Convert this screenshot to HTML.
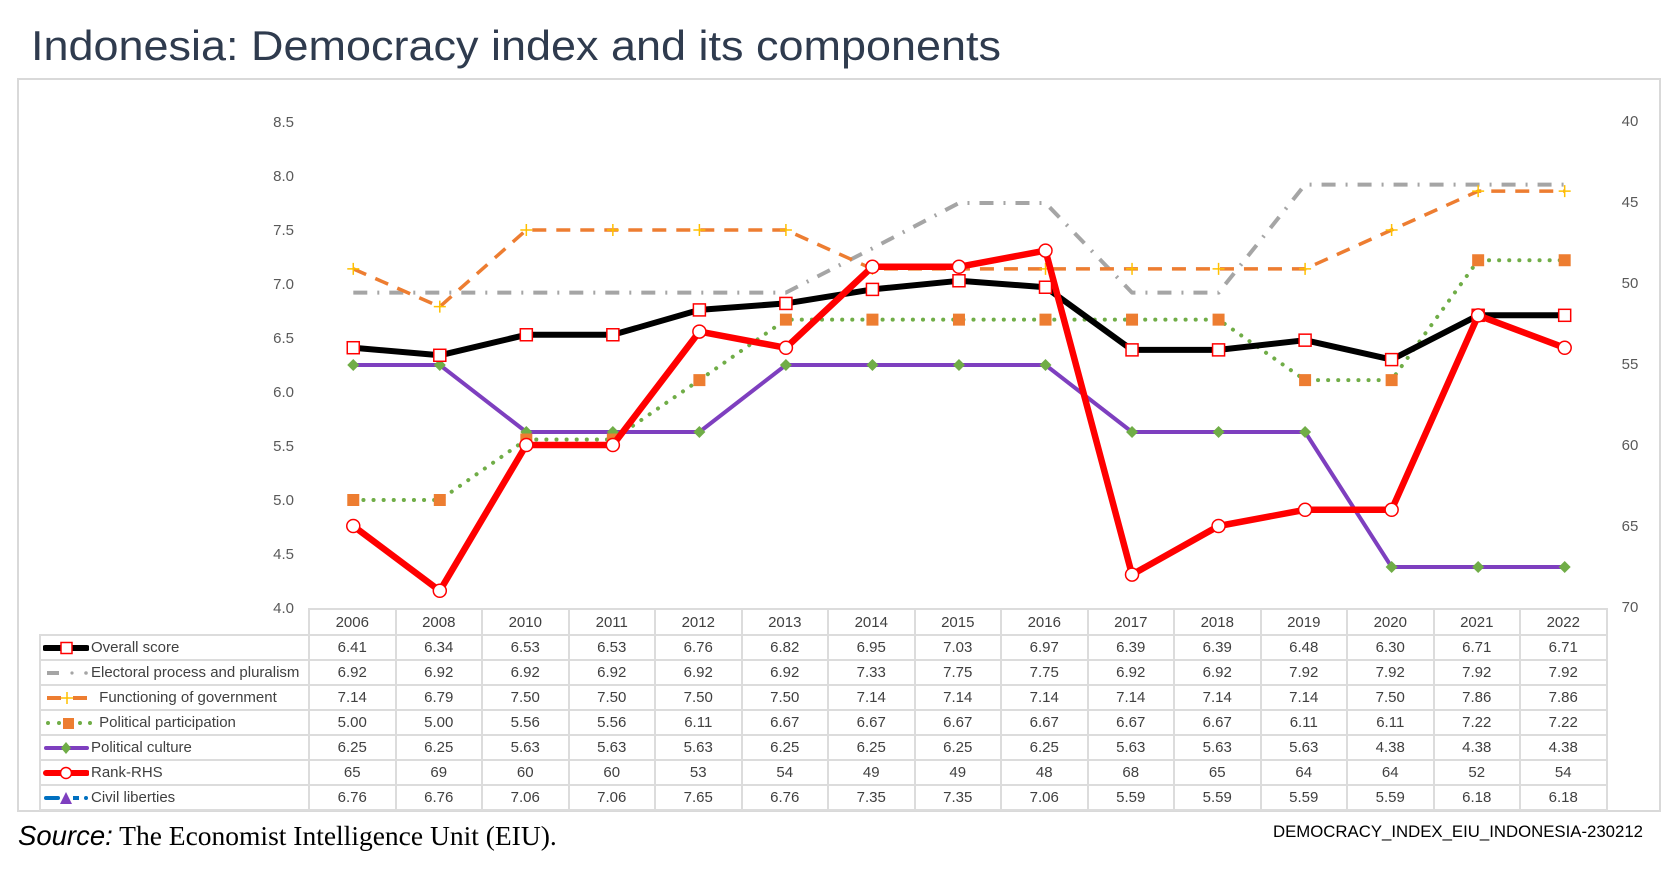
<!DOCTYPE html>
<html><head><meta charset="utf-8"><style>
body{margin:0;width:1674px;height:870px;background:#fff;position:relative;overflow:hidden;font-family:"Liberation Sans",sans-serif}
#frame{position:absolute;left:17px;top:78px;width:1640px;height:730px;border:2px solid #D9D9D9;box-sizing:content-box}
table{position:absolute;left:39px;top:608px;border-collapse:collapse;table-layout:fixed;font-size:15px;color:#404040}
td{border:2px solid #DCDCDC;height:23px;padding:0;text-align:center;white-space:nowrap;overflow:hidden;line-height:23px}
tr.h td{height:24px}
td.l{text-align:left;width:267px}
td.n{width:84.5px}
tr.h td.l{border:none;border-right:2px solid #DCDCDC}
svg.ic{vertical-align:middle;margin:0 2px 0 2px}
</style></head><body>
<svg width="1674" height="870" style="position:absolute;left:0;top:0">
<text x="31" y="60" font-family="Liberation Sans,sans-serif" font-size="42" fill="#2F3B4E" textLength="970" lengthAdjust="spacingAndGlyphs">Indonesia: Democracy index and its components</text>
<g font-size="15" fill="#595959" text-anchor="end">
<text x="294" y="127">8.5</text><text x="294" y="181">8.0</text><text x="294" y="235">7.5</text><text x="294" y="289">7.0</text><text x="294" y="343">6.5</text><text x="294" y="397">6.0</text><text x="294" y="451">5.5</text><text x="294" y="505">5.0</text><text x="294" y="559">4.5</text><text x="294" y="613">4.0</text>
</g>
<g font-size="15" fill="#595959" text-anchor="middle">
<text x="1630" y="126">40</text><text x="1630" y="207">45</text><text x="1630" y="288">50</text><text x="1630" y="369">55</text><text x="1630" y="450">60</text><text x="1630" y="531">65</text><text x="1630" y="612">70</text>
</g>
<g id="plot"></g>
<text x="18" y="845" font-size="27.5" fill="#000"><tspan font-family="Liberation Sans,sans-serif" font-style="italic">Source:</tspan><tspan font-family="Liberation Serif,serif"> The Economist Intelligence Unit (EIU).</tspan></text>
<text x="1273" y="837" font-size="17" fill="#000" textLength="370" lengthAdjust="spacingAndGlyphs">DEMOCRACY_INDEX_EIU_INDONESIA-230212</text>
</svg>
<div id="frame"></div>
<table>
<tr class="h"><td class="l"></td><td class="n">2006</td><td class="n">2008</td><td class="n">2010</td><td class="n">2011</td><td class="n">2012</td><td class="n">2013</td><td class="n">2014</td><td class="n">2015</td><td class="n">2016</td><td class="n">2017</td><td class="n">2018</td><td class="n">2019</td><td class="n">2020</td><td class="n">2021</td><td class="n">2022</td></tr>
<tr><td class="l"><svg class="ic" width="46" height="14"><line x1="2" y1="7" x2="44" y2="7" stroke="#000" stroke-width="6" stroke-linecap="round"/><rect x="18" y="1.5" width="11" height="11" fill="#fff" stroke="#f00" stroke-width="1.5"/></svg>Overall score</td><td>6.41</td><td>6.34</td><td>6.53</td><td>6.53</td><td>6.76</td><td>6.82</td><td>6.95</td><td>7.03</td><td>6.97</td><td>6.39</td><td>6.39</td><td>6.48</td><td>6.30</td><td>6.71</td><td>6.71</td></tr>
<tr><td class="l"><svg class="ic" width="46" height="14"><line x1="4" y1="7" x2="16" y2="7" stroke="#A5A5A5" stroke-width="4"/><circle cx="29" cy="7" r="1.6" fill="#A5A5A5"/><circle cx="43" cy="7" r="1.8" fill="#A5A5A5"/></svg>Electoral process and pluralism</td><td>6.92</td><td>6.92</td><td>6.92</td><td>6.92</td><td>6.92</td><td>6.92</td><td>7.33</td><td>7.75</td><td>7.75</td><td>6.92</td><td>6.92</td><td>7.92</td><td>7.92</td><td>7.92</td><td>7.92</td></tr>
<tr><td class="l"><svg class="ic" width="50" height="14"><line x1="4" y1="7" x2="18" y2="7" stroke="#ED7D31" stroke-width="4"/><line x1="30" y1="7" x2="44" y2="7" stroke="#ED7D31" stroke-width="4"/><path d="M18 7H30M24 1V13" stroke="#FFC000" stroke-width="1.5"/></svg> Functioning of government</td><td>7.14</td><td>6.79</td><td>7.50</td><td>7.50</td><td>7.50</td><td>7.50</td><td>7.14</td><td>7.14</td><td>7.14</td><td>7.14</td><td>7.14</td><td>7.14</td><td>7.50</td><td>7.86</td><td>7.86</td></tr>
<tr><td class="l"><svg class="ic" width="50" height="14"><circle cx="5" cy="7" r="2" fill="#70AD47"/><circle cx="16" cy="7" r="2" fill="#70AD47"/><circle cx="37" cy="7" r="2" fill="#70AD47"/><circle cx="47" cy="7" r="2" fill="#70AD47"/><rect x="20" y="2" width="11" height="11" fill="#ED7D31"/></svg> Political participation</td><td>5.00</td><td>5.00</td><td>5.56</td><td>5.56</td><td>6.11</td><td>6.67</td><td>6.67</td><td>6.67</td><td>6.67</td><td>6.67</td><td>6.67</td><td>6.11</td><td>6.11</td><td>7.22</td><td>7.22</td></tr>
<tr><td class="l"><svg class="ic" width="46" height="14"><line x1="3" y1="7" x2="44" y2="7" stroke="#7E3FBF" stroke-width="4" stroke-linecap="round"/><path d="M23 1L28 7L23 13L18 7Z" fill="#70AD47"/></svg>Political culture</td><td>6.25</td><td>6.25</td><td>5.63</td><td>5.63</td><td>5.63</td><td>6.25</td><td>6.25</td><td>6.25</td><td>6.25</td><td>5.63</td><td>5.63</td><td>5.63</td><td>4.38</td><td>4.38</td><td>4.38</td></tr>
<tr><td class="l"><svg class="ic" width="46" height="14"><line x1="3" y1="7" x2="44" y2="7" stroke="#f00" stroke-width="6" stroke-linecap="round"/><circle cx="23" cy="7" r="5.5" fill="#fff" stroke="#f00" stroke-width="1.5"/></svg>Rank-RHS</td><td>65</td><td>69</td><td>60</td><td>60</td><td>53</td><td>54</td><td>49</td><td>49</td><td>48</td><td>68</td><td>65</td><td>64</td><td>64</td><td>52</td><td>54</td></tr>
<tr><td class="l"><svg class="ic" width="46" height="14"><line x1="3" y1="7" x2="15" y2="7" stroke="#0070C0" stroke-width="4" stroke-linecap="round"/><line x1="30" y1="7" x2="36" y2="7" stroke="#0070C0" stroke-width="4"/><circle cx="43" cy="7" r="2" fill="#0070C0"/><path d="M23 1L29 13H17Z" fill="#7E3FBF"/></svg>Civil liberties</td><td>6.76</td><td>6.76</td><td>7.06</td><td>7.06</td><td>7.65</td><td>6.76</td><td>7.35</td><td>7.35</td><td>7.06</td><td>5.59</td><td>5.59</td><td>5.59</td><td>5.59</td><td>6.18</td><td>6.18</td></tr>
</table>
<script>
(function(){
var NS="http://www.w3.org/2000/svg",g=document.getElementById("plot");
function X(i){return 310+86.53*(i+0.5);}
function Y(v){return 122+(8.5-v)*108;}
function R(r){return 121+(r-40)*16.2;}
function el(t,a){var e=document.createElementNS(NS,t);for(var k in a)e.setAttribute(k,a[k]);g.appendChild(e);return e;}
function line(vals,f,attrs){var p=vals.map(function(v,i){return X(i).toFixed(1)+","+f(v).toFixed(1);}).join(" ");attrs.points=p;attrs.fill="none";attrs["stroke-linejoin"]="round";el("polyline",attrs);}
var elec=[6.92,6.92,6.92,6.92,6.92,6.92,7.33,7.75,7.75,6.92,6.92,7.92,7.92,7.92,7.92];
var func=[7.14,6.79,7.5,7.5,7.5,7.5,7.14,7.14,7.14,7.14,7.14,7.14,7.5,7.86,7.86];
var part=[5,5,5.56,5.56,6.11,6.67,6.67,6.67,6.67,6.67,6.67,6.11,6.11,7.22,7.22];
var cult=[6.25,6.25,5.63,5.63,5.63,6.25,6.25,6.25,6.25,5.63,5.63,5.63,4.38,4.38,4.38];
var ov=[6.41,6.34,6.53,6.53,6.76,6.82,6.95,7.03,6.97,6.39,6.39,6.48,6.30,6.71,6.71];
var rk=[65,69,60,60,53,54,49,49,48,68,65,64,64,52,54];
line(elec,Y,{stroke:"#A5A5A5","stroke-width":4,"stroke-dasharray":"14 10 2 10","stroke-linecap":"butt"});
line(func,Y,{stroke:"#ED7D31","stroke-width":3.5,"stroke-dasharray":"14 10"});
func.forEach(function(v,i){el("path",{d:"M"+(X(i)-6)+" "+Y(v)+"h12M"+X(i)+" "+(Y(v)-6)+"v12",stroke:"#FFC000","stroke-width":1.5});});
line(cult,Y,{stroke:"#7E3FBF","stroke-width":4});
cult.forEach(function(v,i){var x=X(i),y=Y(v);el("path",{d:"M"+x+" "+(y-6)+"L"+(x+6)+" "+y+"L"+x+" "+(y+6)+"L"+(x-6)+" "+y+"Z",fill:"#70AD47"});});
line(part,Y,{stroke:"#70AD47","stroke-width":4,"stroke-dasharray":"0.1 10","stroke-linecap":"round"});
part.forEach(function(v,i){el("rect",{x:X(i)-6,y:Y(v)-6,width:12,height:12,fill:"#ED7D31"});});
line(ov,Y,{stroke:"#000","stroke-width":6});
ov.forEach(function(v,i){el("rect",{x:X(i)-6,y:Y(v)-6,width:12,height:12,fill:"#fff",stroke:"#f00","stroke-width":1.5});});
line(rk,R,{stroke:"#f00","stroke-width":6.5});
rk.forEach(function(v,i){el("circle",{cx:X(i),cy:R(v),r:6.5,fill:"#fff",stroke:"#f00","stroke-width":1.5});});
})();
</script>
</body></html>
